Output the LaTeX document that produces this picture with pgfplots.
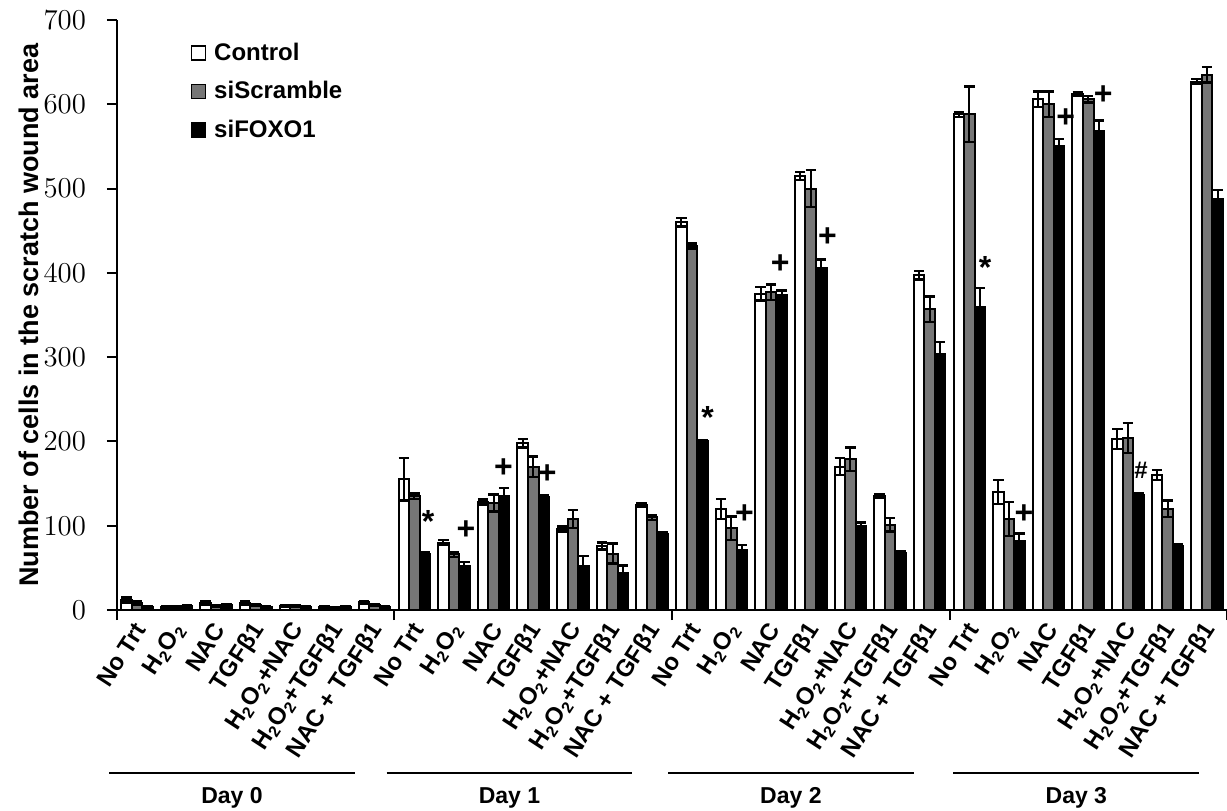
\documentclass[border=0pt]{standalone}
\usepackage{fontspec}
\setmainfont{Liberation Sans}
\usepackage{pgfplots}
\usepackage{pgfplotstable}
\pgfplotsset{compat=1.18}
\definecolor{scrgray}{RGB}{118,118,118}

% x = category index (7 per day), y = mean, e = error
\pgfplotstableread{
x y e
0 12 3
1 3 1
2 8 2
3 8 2
4 5 1
5 3 1
6 9 2
7 155 25
8 80 3
9 128 3
10 198 5
11 96 3
12 76 4
13 125 2
14 460 5
15 120 12
16 375 8
17 515 5
18 170 10
19 135 2
20 397 5
21 588 3
22 140 14
23 606 9
24 612 2
25 203 12
26 160 6
27 627 3
}\ctrl

\pgfplotstableread{
x y e
0 8 2
1 4 1
2 5 1
3 6 1
4 5 1
5 2 1
6 6 1
7 135 3
8 66 3
9 127 10
10 170 12
11 108 11
12 67 12
13 110 3
14 432 3
15 97 14
16 377 9
17 500 22
18 179 14
19 101 8
20 357 15
21 588 33
22 108 20
23 600 15
24 606 4
25 204 18
26 120 10
27 635 9
}\scr

\pgfplotstableread{
x y e
0 3 1
1 5 1
2 6 1
3 4 1
4 4 1
5 3 1
6 4 1
7 67 2
8 52 5
9 135 10
10 134 2
11 52 12
12 44 9
13 90 2
14 200 2
15 71 6
16 374 5
17 406 10
18 100 4
19 68 2
20 304 14
21 360 22
22 82 9
23 550 9
24 568 13
25 136 2
26 76 2
27 488 10
}\foxo

\begin{document}
\begin{tikzpicture}
\useasboundingbox (-58.5pt,-100pt) rectangle (555pt,305pt);
\begin{axis}[
  at={(0,0)}, anchor=south west,
  width=555pt, height=295pt, scale only axis,
  clip=false,
  ybar=0pt, bar width=0.265,
  xmin=-0.5, xmax=27.5,
  ymin=0, ymax=700,
  axis x line*=bottom, axis y line*=left,
  axis line style={line width=1pt, -},
  tick align=outside,
  major tick length=5pt,
  ytick={0,100,...,700},
  y tick style={line width=1pt, black},
  yticklabel style={font=\fontsize{14}{16}\selectfont, xshift=-7pt},
  xtick={0,...,27},
  x tick style={draw=none},
  xticklabels={No Trt, H\textsubscript{2}O\textsubscript{2}, NAC, TGFβ1,
    H\textsubscript{2}O\textsubscript{2}+NAC, H\textsubscript{2}O\textsubscript{2}+TGFβ1, NAC + TGFβ1,
    No Trt, H\textsubscript{2}O\textsubscript{2}, NAC, TGFβ1,
    H\textsubscript{2}O\textsubscript{2}+NAC, H\textsubscript{2}O\textsubscript{2}+TGFβ1, NAC + TGFβ1,
    No Trt, H\textsubscript{2}O\textsubscript{2}, NAC, TGFβ1,
    H\textsubscript{2}O\textsubscript{2}+NAC, H\textsubscript{2}O\textsubscript{2}+TGFβ1, NAC + TGFβ1,
    No Trt, H\textsubscript{2}O\textsubscript{2}, NAC, TGFβ1,
    H\textsubscript{2}O\textsubscript{2}+NAC, H\textsubscript{2}O\textsubscript{2}+TGFβ1, NAC + TGFβ1},
  xticklabel style={font=\fontsize{12}{14}\bfseries, rotate=57, anchor=east, yshift=-3pt, xshift=2pt},
  extra x ticks={-0.5,6.5,13.5,20.5,27.5},
  extra x tick labels={},
  extra x tick style={x tick style={draw=black, line width=1pt}},
  ylabel={Number of cells in the scratch wound area},
  ylabel style={font=\fontsize{13.5}{15}\bfseries, at={(axis description cs:-0.079,0.5)}, anchor=center},
  legend style={draw=none, at={(axis description cs:0.066,0.965)}, anchor=north west,
    font=\fontsize{12}{14}\bfseries, row sep=7pt, inner sep=0pt,
    nodes={inner xsep=4pt, inner ysep=1pt}},
  legend cell align=left,
  legend image code/.code={\draw[#1, line width=0.8pt] (0pt,-3.5pt) rectangle (7pt,3.5pt);},
]
\addplot[fill=white, draw=black, line width=1pt,
  error bars/.cd, y dir=both, y explicit,
  error bar style={line width=1pt, black},
  error mark options={rotate=90, mark size=2.6pt, line width=1.2pt, black}]
  table[x=x, y=y, y error=e]{\ctrl};
\addplot[fill=scrgray, draw=black, line width=1pt,
  error bars/.cd, y dir=both, y explicit,
  error bar style={line width=1pt, black},
  error mark options={rotate=90, mark size=2.6pt, line width=1.2pt, black}]
  table[x=x, y=y, y error=e]{\scr};
\addplot[fill=black, draw=black, line width=1pt,
  error bars/.cd, y dir=both, y explicit,
  error bar style={line width=1pt, black},
  error mark options={rotate=90, mark size=2.6pt, line width=1.2pt, black}]
  table[x=x, y=y, y error=e]{\foxo};
\legend{Control, siScramble, siFOXO1}

% significance marks
\begin{scope}[every node/.style={font=\fontsize{16}{16}\bfseries, inner sep=0pt}]
\node at (axis cs:7.35,105) {*};
\node at (axis cs:8.3,95) {+};
\node at (axis cs:9.25,168) {+};
\node at (axis cs:10.35,161) {+};
\node at (axis cs:14.4,228) {*};
\node at (axis cs:15.33,114) {+};
\node at (axis cs:16.23,410) {+};
\node at (axis cs:17.42,442) {+};
\node at (axis cs:21.4,406) {*};
\node at (axis cs:22.38,114) {+};
\node at (axis cs:23.43,584) {+};
\node at (axis cs:24.38,611) {+};
\node[font=\fontsize{12}{12}\bfseries] at (axis cs:25.33,166) {\#};
\end{scope}

% day groups
\draw[line width=1.2pt] ([yshift=-81.5pt]axis cs:-0.7,0) -- ([yshift=-81.5pt]axis cs:5.5,0);
\draw[line width=1.2pt] ([yshift=-81.5pt]axis cs:6.3,0) -- ([yshift=-81.5pt]axis cs:12.5,0);
\draw[line width=1.2pt] ([yshift=-81.5pt]axis cs:13.4,0) -- ([yshift=-81.5pt]axis cs:19.6,0);
\draw[line width=1.2pt] ([yshift=-81.5pt]axis cs:20.6,0) -- ([yshift=-81.5pt]axis cs:26.8,0);
\node[font=\fontsize{11.5}{13}\bfseries] at ([yshift=-94pt]axis cs:2.4,0) {Day 0};
\node[font=\fontsize{11.5}{13}\bfseries] at ([yshift=-94pt]axis cs:9.4,0) {Day 1};
\node[font=\fontsize{11.5}{13}\bfseries] at ([yshift=-94pt]axis cs:16.5,0) {Day 2};
\node[font=\fontsize{11.5}{13}\bfseries] at ([yshift=-94pt]axis cs:23.7,0) {Day 3};
\end{axis}
\end{tikzpicture}
\end{document}
